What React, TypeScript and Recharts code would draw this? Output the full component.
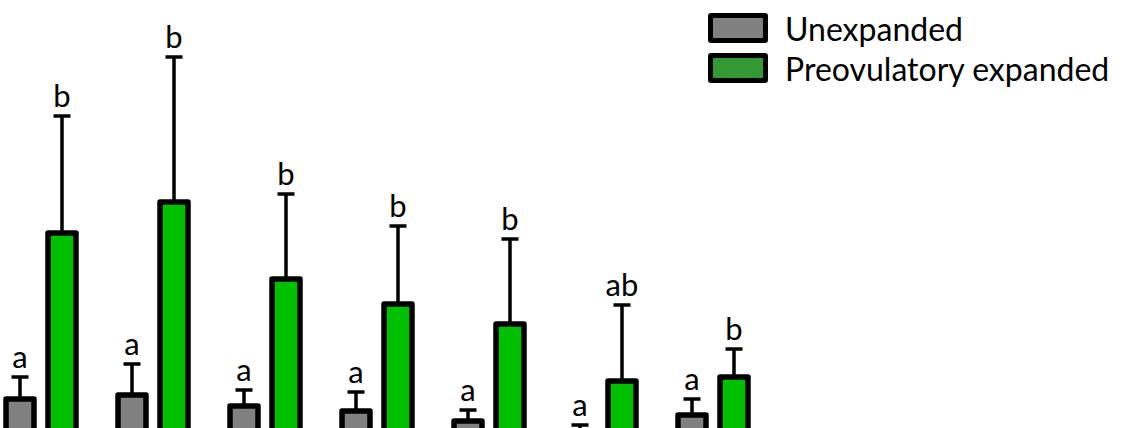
import { ComposedChart, Bar, XAxis, YAxis, ErrorBar, LabelList, Legend } from 'recharts';

const groups = ['1', '2', '3', '4', '5', '6', '7'];
const unexpanded = [7.1, 7.5, 6.4, 5.9, 4.9, 3.0, 5.5];
const unexpandedErr = [2.2, 3.1, 1.6, 1.9, 1.1, 1.5, 1.6];
const unexpandedLetters = ['a', 'a', 'a', 'a', 'a', 'a', 'a'];
const preovulatory = [23.7, 26.8, 19.1, 16.6, 14.6, 8.9, 9.3];
const preovulatoryErr = [11.7, 14.5, 8.5, 7.8, 8.5, 7.6, 2.8];
const preovulatoryLetters = ['b', 'b', 'b', 'b', 'b', 'ab', 'b'];

const seriesNames = ['Unexpanded', 'Preovulatory expanded'];
const barColors = ['#808080', '#00c000'];
const legendColors = ['#808080', '#339933'];

const data = groups.map((g, i) => ({
  group: g,
  unexpanded: unexpanded[i],
  unexpandedErr: unexpandedErr[i],
  preovulatory: preovulatory[i],
  preovulatoryErr: preovulatoryErr[i],
}));

// letter above the error cap; cap position derived from the bar's own geometry
function makeLetterLabel(values: number[], errs: number[], letters: string[]) {
  return (props: any) => {
    const vb = props.viewBox && props.viewBox.height !== undefined ? props.viewBox : props;
    const i = props.index;
    const x = Number(vb.x);
    const y = Number(vb.y);
    const w = Number(vb.width);
    const h = Number(vb.height);
    const capY = y - (errs[i] * h) / values[i];
    return (
      <text
        x={x + w / 2}
        y={capY - 9}
        textAnchor="middle"
        fontFamily="Lato"
        fontSize={31}
        fill="#000"
      >
        {letters[i]}
      </text>
    );
  };
}

function LegendBox() {
  return (
    <div style={{ fontFamily: 'Lato', fontSize: 32, color: '#000' }}>
      {seriesNames.map((name, i) => (
        <div key={name} style={{ display: 'flex', alignItems: 'center', height: 40 }}>
          <div
            style={{
              width: 50,
              height: 20,
              border: '5px solid #000',
              borderRadius: 3,
              background: legendColors[i],
              marginRight: 17,
            }}
          />
          <span style={{ whiteSpace: 'nowrap' }}>{name}</span>
        </div>
      ))}
    </div>
  );
}

export default function App() {
  return (
    <div
      style={{
        position: 'absolute',
        left: 0,
        top: 0,
        width: 1128,
        height: 428,
        overflow: 'hidden',
        background: '#fff',
      }}
    >
      <div style={{ position: 'absolute', left: -15, top: 0 }}>
        <ComposedChart
          width={1143}
          height={470}
          data={data}
          margin={{ top: 0, right: 359, left: 0, bottom: 0 }}
          barSize={28}
          barGap={14}
        >
          <XAxis dataKey="group" hide />
          <YAxis domain={[0, 47]} hide />
          <Legend
            layout="horizontal"
            verticalAlign="middle"
            align="center"
            content={() => <LegendBox />}
            wrapperStyle={{ top: 8, left: 723, width: 420, height: 80 }}
          />
          <Bar
            dataKey="unexpanded"
            name={seriesNames[0]}
            fill={barColors[0]}
            stroke="#000"
            strokeWidth={5.5}
            strokeLinejoin="round"
            isAnimationActive={false}
          >
            <ErrorBar
              dataKey={(d: any) => [0, d.unexpandedErr]}
              direction="y"
              width={8.5}
              stroke="#000"
              strokeWidth={3.5}
              isAnimationActive={false}
            />
            <LabelList dataKey="unexpanded" content={makeLetterLabel(unexpanded, unexpandedErr, unexpandedLetters)} />
          </Bar>
          <Bar
            dataKey="preovulatory"
            name={seriesNames[1]}
            fill={barColors[1]}
            stroke="#000"
            strokeWidth={5.5}
            strokeLinejoin="round"
            isAnimationActive={false}
          >
            <ErrorBar
              dataKey={(d: any) => [0, d.preovulatoryErr]}
              direction="y"
              width={8.5}
              stroke="#000"
              strokeWidth={3.5}
              isAnimationActive={false}
            />
            <LabelList
              dataKey="preovulatory"
              content={makeLetterLabel(preovulatory, preovulatoryErr, preovulatoryLetters)}
            />
          </Bar>
        </ComposedChart>
      </div>
    </div>
  );
}
